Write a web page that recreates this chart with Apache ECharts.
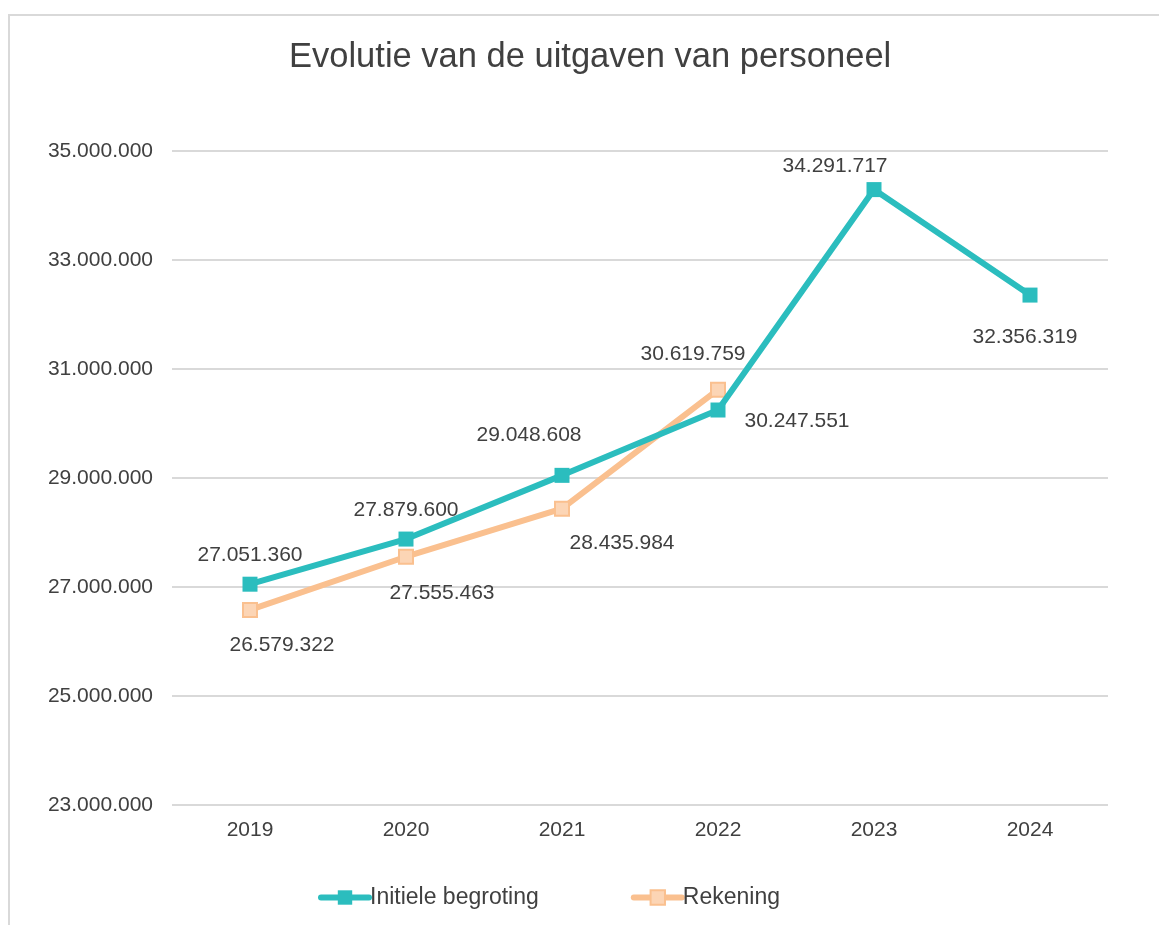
<!DOCTYPE html>
<html>
<head>
<meta charset="utf-8">
<script src="https://cdn.jsdelivr.net/npm/echarts@6/dist/echarts.min.js"></script>
<style>
html,body{margin:0;padding:0;background:#fff;}
#wrap{position:relative;width:1159px;height:925px;overflow:hidden;}
#frame{position:absolute;left:8px;top:14px;width:1200px;height:1000px;border-left:2px solid #d9d9d9;border-top:2px solid #d9d9d9;box-sizing:border-box;}
#chart{position:absolute;left:0;top:0;width:1159px;height:925px;}
</style>
</head>
<body>
<div id="wrap"><div id="frame"></div><div id="chart"></div></div>
<script>
const titleText = 'Evolutie van de uitgaven van personeel';
const categories = ['2019', '2020', '2021', '2022', '2023', '2024'];
const seriesNames = ['Initiele begroting', 'Rekening'];
const begroting = [27051360, 27879600, 29048608, 30247551, 34291717, 32356319];
const rekening = [26579322, 27555463, 28435984, 30619759];
const yMin = 23000000, yMax = 35000000, yStep = 2000000;

// label offsets (layout only)
const begrotingLabelOffsets = [[0, -29], [0, -29], [-33, -40], [79, 11], [-39, -23], [-5, 42]];
const rekeningLabelOffsets = [[32, 35], [36, 36], [60, 34], [-25, -36]];

function fmt(v) {
  return String(Math.round(v)).replace(/\B(?=(\d{3})+(?!\d))/g, '.');
}
const textColor = '#404040';
const font = 'Liberation Sans, Arial, sans-serif';

function buildData(vals, offs) {
  return vals.map((v, i) => ({
    value: v,
    label: { offset: offs[i] }
  }));
}

const chart = echarts.init(document.getElementById('chart'), null, { renderer: 'canvas' });
chart.setOption({
  animation: false,
  backgroundColor: 'transparent',
  title: {
    text: titleText,
    left: 289,
    top: 40,
    padding: 0,
    textStyle: { fontFamily: font, fontSize: 34.5, fontWeight: 'normal', color: textColor }
  },
  grid: { left: 172, right: 51, top: 151, bottom: 120, containLabel: false },
  legend: {
    left: 318,
    top: 886,
    itemWidth: 48,
    itemHeight: 18,
    itemGap: 92,
    padding: 0,
    lineStyle: { width: 6, cap: 'round' },
    textStyle: { fontFamily: font, fontSize: 23, color: textColor, padding: [0, 0, 0, -4] },
    data: seriesNames
  },
  xAxis: {
    type: 'category',
    data: categories,
    boundaryGap: true,
    axisLine: { show: false },
    axisTick: { show: false },
    axisLabel: { fontFamily: font, fontSize: 21, color: textColor, margin: 15 }
  },
  yAxis: {
    type: 'value',
    min: yMin,
    max: yMax,
    interval: yStep,
    axisLine: { show: false },
    axisTick: { show: false },
    splitLine: { lineStyle: { color: '#d9d9d9', width: 2 } },
    axisLabel: { fontFamily: font, fontSize: 21, color: textColor, margin: 19, formatter: fmt }
  },
  series: [
    {
      name: seriesNames[0],
      type: 'line',
      data: buildData(begroting, begrotingLabelOffsets),
      symbol: 'rect',
      symbolSize: 15,
      lineStyle: { color: '#2bbdbe', width: 6, cap: 'round' },
      itemStyle: { color: '#2bbdbe', borderColor: '#2bbdbe', borderWidth: 0 },
      label: {
        show: true, position: 'inside',
        fontFamily: font, fontSize: 21, color: textColor,
        formatter: p => fmt(p.value)
      },
      z: 3
    },
    {
      name: seriesNames[1],
      type: 'line',
      data: buildData(rekening, rekeningLabelOffsets),
      symbol: 'rect',
      symbolSize: 14,
      lineStyle: { color: '#fac08f', width: 6, cap: 'round' },
      itemStyle: { color: '#fcd5b5', borderColor: '#fac08f', borderWidth: 2 },
      label: {
        show: true, position: 'inside',
        fontFamily: font, fontSize: 21, color: textColor,
        formatter: p => fmt(p.value)
      },
      z: 2
    }
  ]
});
</script>
</body>
</html>
